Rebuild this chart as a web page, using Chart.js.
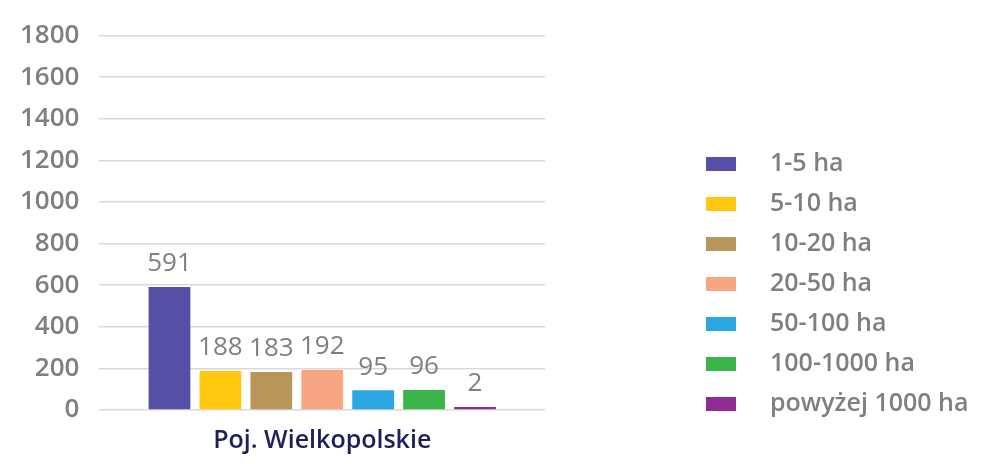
<!DOCTYPE html>
<html>
<head>
<meta charset="utf-8">
<script src="https://cdn.jsdelivr.net/npm/chart.js@4"></script>
<style>
  html, body { margin: 0; padding: 0; background: #fff; }
  #wrap { width: 1000px; height: 464px; }
</style>
</head>
<body>
<div id="wrap"><canvas id="chart"></canvas></div>
<script>
// Dane z wykresu
const categories = ["Poj. Wielkopolskie"];
const seriesLabels = ["1-5 ha", "5-10 ha", "10-20 ha", "20-50 ha", "50-100 ha", "100-1000 ha", "powyżej 1000 ha"];
const seriesValues = [591, 188, 183, 192, 95, 96, 2];
const seriesColors = ["#5550a6", "#ffc80f", "#b8955a", "#f8a682", "#2aa7e1", "#3bb54a", "#8f2c92"];
const yTicks = [0, 200, 400, 600, 800, 1000, 1200, 1400, 1600, 1800];

const gray = "#7f7f7f";
const font = "'Open Sans', sans-serif";

// Etykiety wartości nad słupkami
const valueLabels = {
    id: "valueLabels",
    afterDatasetsDraw(chart) {
        const ctx = chart.ctx;
        ctx.save();
        ctx.fillStyle = gray;
        ctx.font = "26px " + font;
        ctx.textAlign = "center";
        ctx.textBaseline = "bottom";
        chart.data.datasets.forEach((ds, i) => {
            const bar = chart.getDatasetMeta(i).data[0];
            ctx.fillText(String(ds.data[0]), bar.x, bar.y - 10);
        });
        ctx.restore();
    }
};

// Legenda po prawej stronie
const sideLegend = {
    id: "sideLegend",
    afterDraw(chart) {
        const ctx = chart.ctx;
        ctx.save();
        ctx.font = "600 25px " + font;
        ctx.textBaseline = "middle";
        chart.data.datasets.forEach((ds, i) => {
            const y = 164 + i * 40;
            ctx.fillStyle = ds.backgroundColor;
            ctx.fillRect(706, y - 7, 30, 14);
            ctx.fillStyle = gray;
            ctx.fillText(ds.label, 770, y);
        });
        ctx.restore();
    }
};

new Chart(document.getElementById("chart"), {
    type: "bar",
    data: {
        labels: categories,
        datasets: seriesLabels.map((label, i) => ({
            label: label,
            data: [seriesValues[i]],
            backgroundColor: seriesColors[i],
            categoryPercentage: 0.8,
            barPercentage: 0.82,
            minBarLength: 3
        }))
    },
    options: {
        responsive: true,
        maintainAspectRatio: false,
        animation: false,
        layout: { padding: { top: 6, right: 455, left: 0, bottom: 0 } },
        scales: {
            y: {
                min: 0,
                max: 1800,
                afterBuildTicks: (axis) => { axis.ticks = yTicks.map(v => ({ value: v })); },
                border: { display: false },
                grid: { color: "#d9d9d9", lineWidth: 1.5, drawTicks: false },
                ticks: {
                    color: gray,
                    font: { family: font, size: 26, weight: "600" },
                    padding: 20,
                    callback: (v) => String(v)
                }
            },
            x: {
                border: { display: false },
                grid: { display: false },
                ticks: { color: "#1f1f5c", font: { family: font, size: 25, weight: "600" }, padding: 8 }
            }
        },
        plugins: {
            legend: { display: false },
            tooltip: { enabled: false }
        }
    },
    plugins: [valueLabels, sideLegend]
});
</script>
</body>
</html>
